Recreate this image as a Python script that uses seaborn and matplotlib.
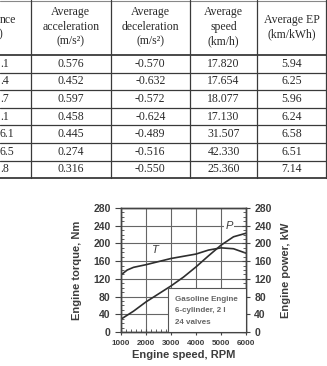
import matplotlib
matplotlib.use("Agg")
import matplotlib.pyplot as plt
import seaborn as sns
import pandas as pd
from matplotlib.patches import Rectangle
from matplotlib.ticker import MultipleLocator

# table (cropped screenshot of the top part)
dist_frag = [".1", ".4", ".7", ".1", "6.1", "6.5", ".8"]
acc = ["0.576", "0.452", "0.597", "0.458", "0.445", "0.274", "0.316"]
dec = ["-0.570", "-0.632", "-0.572", "-0.624", "-0.489", "-0.516", "-0.550"]
speed = ["17.820", "17.654", "18.077", "17.130", "31.507", "42.330", "25.360"]
ep = ["5.94", "6.25", "5.96", "6.24", "6.58", "6.51", "7.14"]
headers = ["Average\nacceleration\n(m/s²)", "Average\ndeceleration\n(m/s²)",
           "Average\nspeed\n(km/h)", "Average EP\n(km/kWh)"]

# engine curves
rpm = [1000, 1250, 1500, 2000, 2500, 3000, 3500, 4000, 4500, 5000, 5500, 6000]
torque = [129, 140, 146, 152, 159, 166, 171, 176, 185, 190, 188, 178]
power = [29, 38, 47, 68, 86, 104, 124, 147, 172, 196, 215, 223]

sns.set_style("white")
plt.rcParams['font.family'] = ['Liberation Sans', 'DejaVu Sans']

W, H = 327, 366
fig = plt.figure(figsize=(W / 100, H / 100), dpi=100)
fig.patch.set_facecolor("white")

# ---- table part ----
tab = fig.add_axes([0, 1 - 180 / H, 1, 180 / H])
tab.set_xlim(0, W)
tab.set_ylim(180, 0)
tab.axis("off")
line_c = "#3a3a3a"
col_x = [31, 110.5, 190, 257, 326]
head_bottom = 55
row_h = 17.6
n_rows = len(acc)
tab.axhline(0.6, color="#888888", lw=0.8)
tab.axhline(head_bottom, color=line_c, lw=1.3)
for i in range(1, n_rows + 1):
    tab.axhline(head_bottom + i * row_h, color=line_c, lw=0.9 if i < n_rows else 1.3)
for x in col_x:
    tab.plot([x, x], [0, head_bottom + n_rows * row_h], color=line_c, lw=0.9)

tfont = dict(family=['Liberation Serif', 'DejaVu Serif'], fontsize=8.5, color="#2a2a2a")
tab.text(0, 20, "nce", ha="left", va="center", **tfont)
tab.text(-1, 34, ")", ha="left", va="center", **tfont)
for j, h in enumerate(headers):
    cx = (col_x[j] + col_x[j + 1]) / 2
    tab.text(cx, 27, h, ha="center", va="center", linespacing=1.3, **tfont)
for i in range(n_rows):
    cy = head_bottom + (i + 0.5) * row_h
    tab.text(0, cy, dist_frag[i], ha="left", va="center", **tfont)
    for j, col in enumerate([acc, dec, speed, ep]):
        cx = (col_x[j] + col_x[j + 1]) / 2
        tab.text(cx, cy, col[i], ha="center", va="center", **tfont)

# ---- engine chart ----
df = pd.DataFrame({"rpm": rpm, "torque": torque, "power": power})
ax = fig.add_axes([121 / W, 1 - 332 / H, 125 / W, 124 / H])
ax2 = ax.twinx()
ink = "#2e2e2e"
txt = "#3c3c3c"

sns.lineplot(data=df, x="rpm", y="torque", ax=ax, color=ink, lw=1.2)
sns.lineplot(data=df, x="rpm", y="power", ax=ax2, color=ink, lw=1.2)

for a in (ax, ax2):
    a.set_xlim(1000, 6000)
    a.set_ylim(0, 280)
    a.yaxis.set_major_locator(MultipleLocator(40))
    a.yaxis.set_minor_locator(MultipleLocator(10))
    for s in a.spines.values():
        s.set_color("#444444")
        s.set_linewidth(1.0)

ax.xaxis.set_major_locator(MultipleLocator(1000))
ax.xaxis.set_minor_locator(MultipleLocator(200))
ax.grid(True, which="major", color="#666666", lw=0.8)
ax.set_axisbelow(True)

ax.tick_params(axis="y", which="major", direction="out", length=4.5, width=0.8,
               color="#444444", labelsize=7.5, labelcolor=txt, pad=3)
ax.tick_params(axis="y", which="minor", direction="in", length=2, width=0.6, color="#444444")
ax.tick_params(axis="x", which="major", direction="inout", length=4, width=0.8,
               color="#444444", labelsize=5.8, labelcolor=txt, pad=4)
ax.tick_params(axis="x", which="minor", direction="in", length=2, width=0.6, color="#444444")
ax.tick_params(axis="y", which="both", left=True)
ax.tick_params(axis="x", which="both", bottom=True)
ax2.tick_params(axis="y", which="major", direction="inout", length=6, width=0.8,
                color="#444444", labelsize=7.5, labelcolor=txt, pad=3)
ax2.tick_params(axis="y", which="minor", direction="in", length=2, width=0.6, color="#444444")
ax2.tick_params(axis="y", which="both", right=True)

for lab in ax.get_yticklabels() + ax.get_xticklabels() + ax2.get_yticklabels():
    lab.set_fontweight("bold")

ax.set_xlabel("Engine speed, RPM", fontsize=8, fontweight="bold", color=txt, labelpad=2)
ax.set_ylabel("Engine torque, Nm", fontsize=8, fontweight="bold", color=txt, labelpad=8)
ax2.set_ylabel("Engine power, kW", fontsize=8, fontweight="bold", color=txt, labelpad=7)

# curve names
ax.text(2360, 185, "T", fontsize=8, style="italic", color=txt, ha="center", va="center")
ax.text(5320, 239, "P", fontsize=8, style="italic", color=txt, ha="center", va="center",
        bbox=dict(facecolor="white", edgecolor="none", pad=1))

# info box
ax2.add_patch(Rectangle((2880, 0), 3120, 99, facecolor="white", edgecolor="#555555",
                        lw=0.8, zorder=5))
info = ["Gasoline Engine", "6-cylinder, 2 l", "24 valves"]
for k, s in enumerate(info):
    ax2.text(3160, 74.5 - k * 26, s, fontsize=5.8, fontweight="bold", color="#666666",
             ha="left", va="center", zorder=6)

fig.savefig("out.png", dpi=100, facecolor="white")
